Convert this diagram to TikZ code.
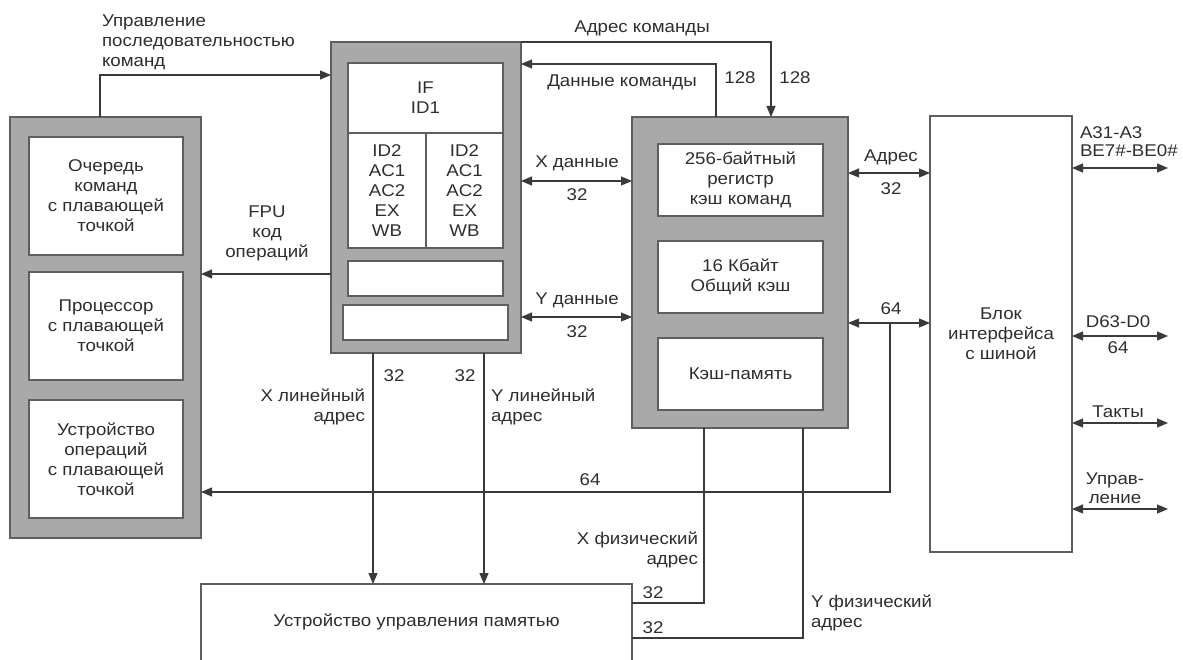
\documentclass[tikz,border=0pt]{standalone}
\usepackage{fontspec}
\setmainfont{Liberation Sans}[FakeStretch=1.1]
\usetikzlibrary{arrows.meta,calc}
\definecolor{boxgray}{HTML}{A9A9A9}
\definecolor{edgegray}{HTML}{5E5E5E}
\definecolor{linec}{HTML}{3A3A3A}
\definecolor{txt}{HTML}{2E2E2E}
\begin{document}
\begin{tikzpicture}[x=1pt,y=-1pt,
  font=\fontsize{17}{20}\selectfont,
  every node/.style={text=txt, inner sep=0pt, outer sep=0pt},
  graybox/.style={draw=edgegray, fill=boxgray, line width=1.2pt},
  whitebox/.style={draw=edgegray, fill=white, line width=1.2pt, align=center},
  conn/.style={draw=linec, line width=1.2pt},
  arr/.style={conn, -{Triangle[length=11pt,width=9pt]}},
  barr/.style={conn, {Triangle[length=11pt,width=9pt]}-{Triangle[length=11pt,width=9pt]}},
  lbl/.style={align=center},
]
\useasboundingbox (0,0) rectangle (1183,660);

% ---- FPU block (left)
\node[graybox, minimum width=191pt, minimum height=421pt] (lefto) at (105.5,327.5) {};
\node[whitebox, minimum width=154pt, minimum height=118pt] (fq) at (106,196) {Очередь\\команд\\с плавающей\\точкой};
\node[whitebox, minimum width=154pt, minimum height=108pt] (fp) at (106,326) {Процессор\\с плавающей\\точкой};
\node[whitebox, minimum width=154pt, minimum height=118pt] (fu) at (106,459) {Устройство\\операций\\с плавающей\\точкой};

% ---- pipeline block
\node[graybox, minimum width=190pt, minimum height=311pt] (pipeo) at (426,197.5) {};
\node[whitebox, minimum width=155pt, minimum height=70pt] (ifb) at (425.5,98) {IF\\ID1};
\node[whitebox, minimum width=78pt, minimum height=115pt] (xp) at (387,190.5) {ID2\\AC1\\AC2\\EX\\WB};
\node[whitebox, minimum width=77pt, minimum height=115pt] (yp) at (464.5,190.5) {ID2\\AC1\\AC2\\EX\\WB};
\node[whitebox, minimum width=155pt, minimum height=35pt] (pa) at (425.5,278.5) {};
\node[whitebox, minimum width=165pt, minimum height=35pt] (pb) at (425.5,322.5) {};

% ---- cache block
\node[graybox, minimum width=216pt, minimum height=311pt] (cacheo) at (740,272.5) {};
\node[whitebox, minimum width=165pt, minimum height=72pt] (c1) at (740.5,180) {256-байтный\\регистр\\кэш команд};
\node[whitebox, minimum width=165pt, minimum height=72pt] (c2) at (740.5,277) {16 Кбайт\\Общий кэш};
\node[whitebox, minimum width=165pt, minimum height=72pt] (c3) at (740.5,374) {Кэш-память};

% ---- bus interface
\node[whitebox, minimum width=142pt, minimum height=436pt] (bus) at (1001,334) {Блок\\интерфейса\\с шиной};

% ---- MMU (bottom cut off)
\node[minimum width=431pt, minimum height=76pt] (mmu) at (416.5,622) {Устройство управления памятью};
\draw[draw=edgegray, line width=1.2pt] (mmu.south west) -- (mmu.north west) -- (mmu.north east) -- (mmu.south east);

% ---- coordinates for free ends
\coordinate (j64) at (890,323);
\coordinate (r1) at (1168,168);
\coordinate (r2) at (1168,336);
\coordinate (r3) at (1168,423);
\coordinate (r4) at (1168,509);

% ---- connectors
\draw[arr] (lefto.north -| 100,0) |- (pipeo.west |- 0,75);
\draw[arr] (pipeo.north east) -| (cacheo.north -| 771,0);
\draw[arr] (cacheo.north -| 716,0) |- (pipeo.east |- 0,64);
\draw[barr] (pipeo.east |- 0,181) -- (cacheo.west |- 0,181);
\draw[barr] (pipeo.east |- 0,317) -- (cacheo.west |- 0,317);
\draw[barr] (cacheo.east |- 0,173) -- (bus.west |- 0,173);
\draw[barr] (cacheo.east |- 0,323) -- (bus.west |- 0,323);
\draw[arr] (j64) |- (lefto.east |- 0,492);
\draw[arr] (pipeo.west |- 0,274) -- (lefto.east |- 0,274);
\draw[arr] (pipeo.south -| 373,0) -- (mmu.north -| 373,0);
\draw[arr] (pipeo.south -| 484,0) -- (mmu.north -| 484,0);
\draw[conn] (cacheo.south -| 704,0) |- (mmu.east |- 0,603);
\draw[conn] (cacheo.south -| 803,0) |- (mmu.east |- 0,638);
\draw[barr] (bus.east |- r1) -- (r1);
\draw[barr] (bus.east |- r2) -- (r2);
\draw[barr] (bus.east |- r3) -- (r3);
\draw[barr] (bus.east |- r4) -- (r4);

% ---- labels
\node[align=left, anchor=west] (lctl) at (102,42) {Управление\\последовательностью\\команд};
\node[lbl] (laddr) at (642,28) {Адрес команды};
\node[lbl] (ldata) at (622,82) {Данные команды};
\node[lbl] (l128a) at (740,78) {128};
\node[lbl] (l128b) at (795,78) {128};
\node[lbl] (lxd) at (577,163) {X данные};
\node[lbl] (lxd32) at (577,195) {32};
\node[lbl] (lyd) at (577,300) {Y данные};
\node[lbl] (lyd32) at (577,332) {32};
\node[lbl] (ladr) at (891,157) {Адрес};
\node[lbl] (ladr32) at (891,189) {32};
\node[lbl] (l64a) at (891,309) {64};
\node[lbl] (lfpu) at (267,233) {FPU\\код\\операций};
\node[lbl] (l64b) at (590,480) {64};
\node[lbl] (lx32) at (394,376) {32};
\node[lbl] (ly32) at (465,376) {32};
\node[align=right, anchor=east] (lxlin) at (365,407) {X линейный\\адрес};
\node[align=left, anchor=west] (lylin) at (491,407) {Y линейный\\адрес};
\node[align=right, anchor=east] (lxphys) at (698,550) {X физический\\адрес};
\node[align=left, anchor=west] (lyphys) at (811,613) {Y физический\\адрес};
\node[lbl] (lp32a) at (653,593) {32};
\node[lbl] (lp32b) at (653,628) {32};
\node[align=left, anchor=west, font=\fontsize{17}{18}\selectfont] (lA) at (1080,142) {A31-A3\\BE7\#-BE0\#};
\node[lbl] (lD) at (1118,322) {D63-D0};
\node[lbl] (lD64) at (1118,348) {64};
\node[lbl] (lT) at (1118,412) {Такты};
\node[lbl, font=\fontsize{17}{19}\selectfont] (lU) at (1115,488) {Управ-\\ление};
\end{tikzpicture}
\end{document}
